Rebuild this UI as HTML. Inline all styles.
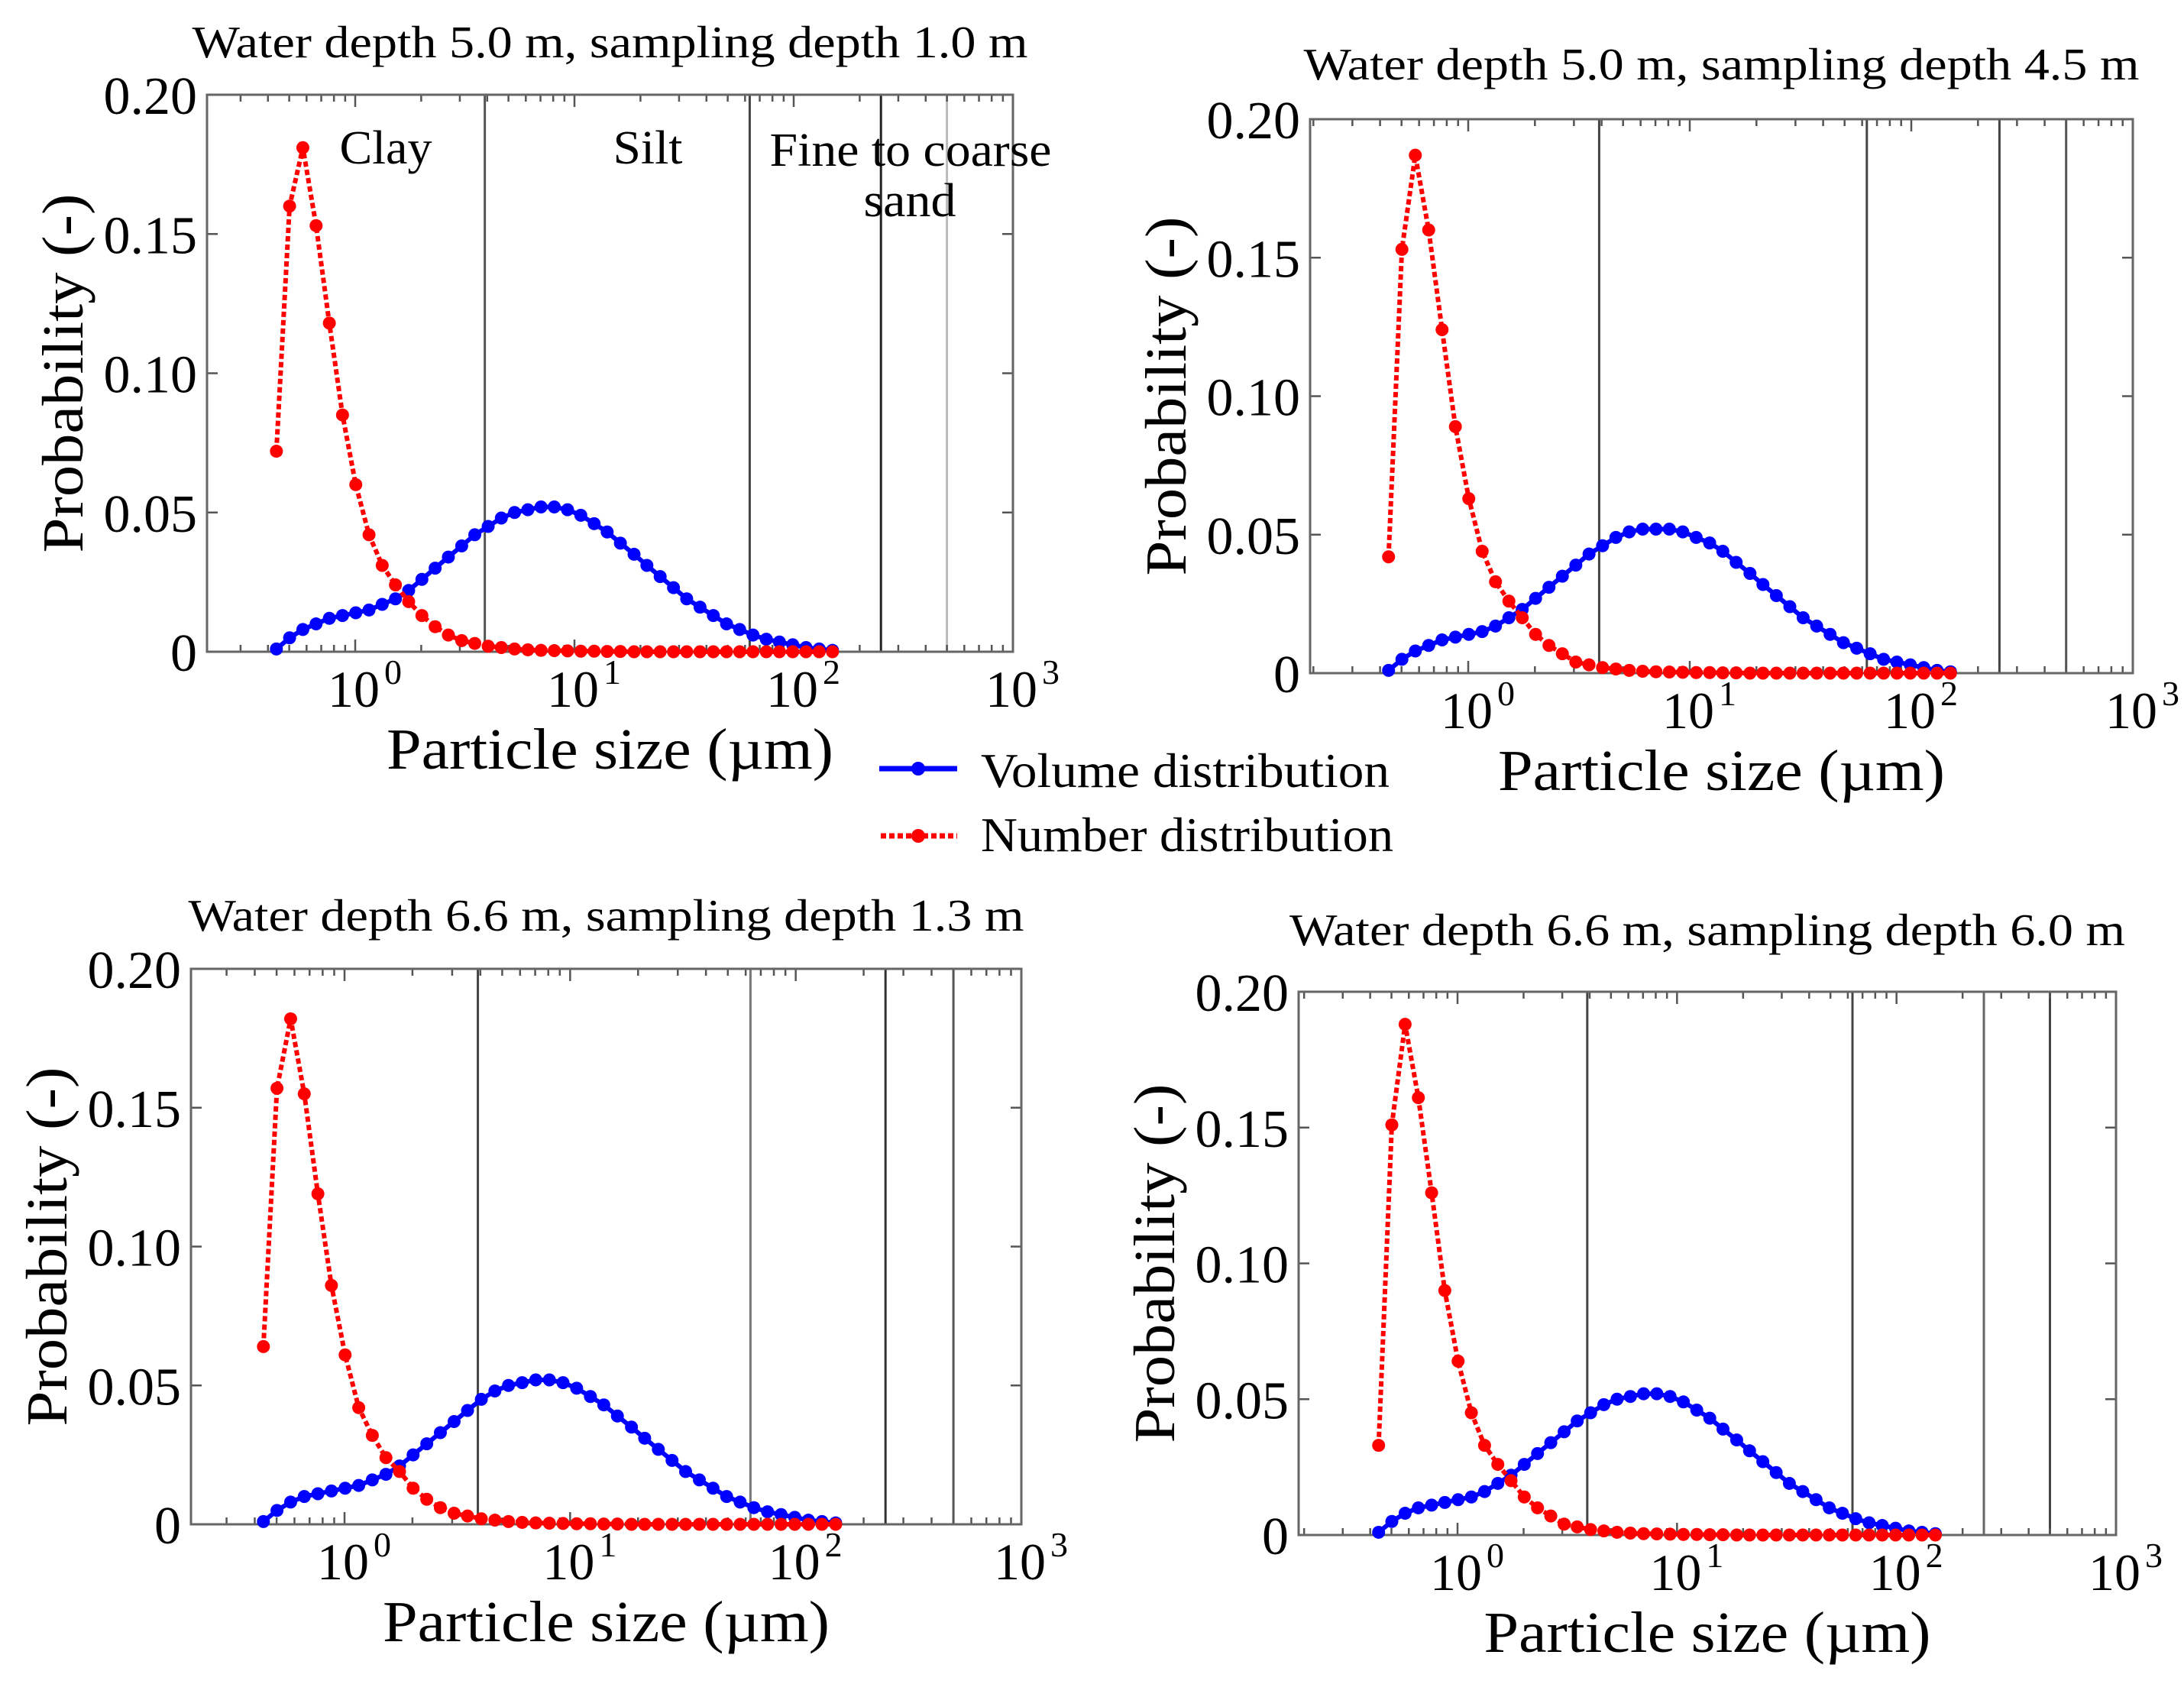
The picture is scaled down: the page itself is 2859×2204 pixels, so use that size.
<!DOCTYPE html>
<html><head><meta charset="utf-8"><style>
html,body{margin:0;padding:0;background:#fff}
svg{display:block;font-family:"Liberation Serif",serif}
</style></head><body>
<svg id="fig" width="2859" height="2204" viewBox="0 0 2859 2204" xmlns="http://www.w3.org/2000/svg">
<g>
 <line x1="1151" y1="1006" x2="1253" y2="1006" stroke="#0000ff" stroke-width="7"/>
 <circle cx="1202" cy="1006" r="9" fill="#0000ff"/>
 <text x="1284" y="1030" font-size="64" textLength="535" lengthAdjust="spacingAndGlyphs">Volume distribution</text>
 <line x1="1153" y1="1094" x2="1253" y2="1094" stroke="#ff0000" stroke-width="7" stroke-dasharray="7,4"/>
 <circle cx="1202" cy="1094" r="9" fill="#ff0000"/>
 <text x="1284" y="1114" font-size="64" textLength="540" lengthAdjust="spacingAndGlyphs">Number distribution</text>
</g>
</svg>
<script>
const sizes = [0.437,0.502,0.577,0.663,0.762,0.875,1.006,1.156,1.328,1.526,1.753,2.014,2.315,2.66,3.06,3.51,4.04,4.64,5.33,6.13,7.04,8.09,9.30,10.69,12.3,14.1,16.2,18.7,21.4,24.6,28.3,32.5,37.4,43.0,49.4,56.7,65.2,75.0,86.1,99.0,113.8,130.7,150.3];
const yTicks = [0, 0.05, 0.10, 0.15, 0.20];
const yTickLabels = ["0","0.05","0.10","0.15","0.20"];
const xDecades = [0, 1, 2, 3];
const boundaries = [3.9, 63, 250, 500];
const titles = ["Water depth 5.0 m, sampling depth 1.0 m","Water depth 5.0 m, sampling depth 4.5 m","Water depth 6.6 m, sampling depth 1.3 m","Water depth 6.6 m, sampling depth 6.0 m"];
const volP1 = [0.001,0.005,0.008,0.010,0.012,0.013,0.014,0.015,0.017,0.019,0.022,0.026,0.030,0.034,0.038,0.042,0.045,0.048,0.050,0.051,0.052,0.052,0.051,0.049,0.046,0.043,0.039,0.035,0.031,0.027,0.023,0.019,0.016,0.013,0.010,0.008,0.006,0.0045,0.0035,0.0025,0.0015,0.001,0.0005];
const numP1 = [0.072,0.160,0.181,0.153,0.118,0.085,0.060,0.042,0.031,0.024,0.018,0.013,0.009,0.006,0.004,0.003,0.002,0.0015,0.001,0.0007,0.0005,0.0004,0.0003,0.0002,0.0002,0.0001,0.0001,0,0,0,0,0,0,0,0,0,0,0,0,0,0,0,0];
const volP2 = [0.001,0.005,0.008,0.010,0.012,0.013,0.014,0.015,0.017,0.020,0.023,0.027,0.031,0.035,0.039,0.043,0.046,0.049,0.051,0.052,0.052,0.052,0.051,0.049,0.047,0.044,0.040,0.036,0.032,0.028,0.024,0.020,0.017,0.014,0.011,0.009,0.007,0.005,0.004,0.003,0.002,0.001,0.0005];
const numP2 = [0.042,0.153,0.187,0.160,0.124,0.089,0.063,0.044,0.033,0.026,0.020,0.014,0.010,0.007,0.004,0.003,0.002,0.0015,0.001,0.0007,0.0005,0.0004,0.0003,0.0002,0.0002,0.0001,0.0001,0,0,0,0,0,0,0,0,0,0,0,0,0,0,0,0];
const volP3 = [0.001,0.005,0.008,0.010,0.011,0.012,0.013,0.014,0.016,0.018,0.021,0.025,0.029,0.033,0.037,0.041,0.045,0.048,0.050,0.051,0.052,0.052,0.051,0.049,0.046,0.043,0.039,0.035,0.031,0.027,0.023,0.019,0.016,0.013,0.010,0.008,0.006,0.0045,0.0035,0.0025,0.0015,0.001,0.0005];
const numP3 = [0.064,0.157,0.182,0.155,0.119,0.086,0.061,0.042,0.032,0.024,0.019,0.013,0.009,0.006,0.004,0.003,0.002,0.0015,0.001,0.0007,0.0005,0.0004,0.0003,0.0002,0.0002,0.0001,0.0001,0,0,0,0,0,0,0,0,0,0,0,0,0,0,0,0];
const volP4 = [0.001,0.005,0.008,0.010,0.011,0.012,0.013,0.014,0.016,0.019,0.022,0.026,0.030,0.034,0.038,0.042,0.045,0.048,0.050,0.051,0.052,0.052,0.051,0.049,0.046,0.043,0.039,0.035,0.031,0.027,0.023,0.019,0.016,0.013,0.010,0.008,0.006,0.0045,0.0035,0.0025,0.0015,0.001,0.0005];
const numP4 = [0.033,0.151,0.188,0.161,0.126,0.090,0.064,0.045,0.033,0.026,0.020,0.014,0.010,0.007,0.004,0.003,0.002,0.0015,0.001,0.0007,0.0005,0.0004,0.0003,0.0002,0.0002,0.0001,0.0001,0,0,0,0,0,0,0,0,0,0,0,0,0,0,0,0];

const NS = "http://www.w3.org/2000/svg";
const svg = document.getElementById("fig");
function mk(tag, attrs, parent) {
  const e = document.createElementNS(NS, tag);
  for (const k in attrs) e.setAttribute(k, attrs[k]);
  parent.appendChild(e);
  return e;
}
const panels = [
  {L:271,R:1326,T:124,B:853,x0:465,ty:75,vol:volP1,num:numP1,cats:true,bc:["#555","#444","#222","#bbb"]},
  {L:1715,R:2792,T:156,B:881,x0:1922,ty:104,vol:volP2,num:numP2,cats:false,bc:["#444","#444","#444","#555"]},
  {L:250,R:1337,T:1268,B:1995,x0:451,ty:1218,vol:volP3,num:numP3,cats:false,bc:["#444","#777","#333","#555"]},
  {L:1700,R:2770,T:1298,B:2009,x0:1908,ty:1237,vol:volP4,num:numP4,cats:false,bc:["#444","#444","#666","#444"]}
];
panels.forEach((p, pi) => {
  const g = mk("g", {}, svg);
  
  
  const d = (p.R - p.x0) / 3;
  const xs = v => p.x0 + Math.log10(v) * d;
  const ys = v => p.B - v / 0.2 * (p.B - p.T);
  const cx = (p.L + p.R) / 2, cy = (p.T + p.B) / 2;
  const t = mk("text", {x: cx, y: p.ty, "font-size": 59, "text-anchor": "middle", textLength: 1094, lengthAdjust: "spacingAndGlyphs"}, g);
  
  
  t.textContent = titles[pi];
  boundaries.forEach((b, bi) => {
    const l = mk("line", {x1: xs(b), x2: xs(b), y1: p.T, y2: p.B, stroke: p.bc[bi], "stroke-width": 3}, g);
    
    
  });
  for (let dec = -1; dec < 3; dec++) {
    for (let k = 1; k <= 9; k++) {
      const v = k * Math.pow(10, dec);
      const x = xs(v);
      if (x < p.L + 2 || x > p.R - 2) continue;
      const len = k === 1 ? 16 : 9;
      mk("line", {x1: x, x2: x, y1: p.B, y2: p.B - len, stroke: "#555", "stroke-width": 2.5}, g);
      mk("line", {x1: x, x2: x, y1: p.T, y2: p.T + len, stroke: "#555", "stroke-width": 2.5}, g);
    }
  }
  yTicks.forEach((v, i) => {
    const y = ys(v);
    mk("line", {x1: p.L, x2: p.L + 14, y1: y, y2: y, stroke: "#555", "stroke-width": 2.5}, g);
    mk("line", {x1: p.R, x2: p.R - 14, y1: y, y2: y, stroke: "#555", "stroke-width": 2.5}, g);
    const tl = mk("text", {x: p.L - 13, y: y + 25, "font-size": 70, "text-anchor": "end"}, g);
    
    
    tl.textContent = yTickLabels[i];
  });
  xDecades.forEach(e => {
    const x = xs(Math.pow(10, e));
    const tl = mk("text", {x: x - 36, y: p.B + 72, "font-size": 68}, g);
    
    
    tl.textContent = "10";
    const sup = mk("tspan", {dy: -30, "font-size": 46, dx: 6}, tl);
    sup.textContent = String(e);
  });
  const box = mk("rect", {x: p.L, y: p.T, width: p.R - p.L, height: p.B - p.T, fill: "none", stroke: "#666", "stroke-width": 3}, g);
  
  
  const xt = mk("text", {x: cx, y: p.B + 153, "font-size": 76, "text-anchor": "middle", textLength: 585, lengthAdjust: "spacingAndGlyphs"}, g);
  
  
  xt.textContent = "Particle size (\u00b5m)";
  const yt = mk("text", {x: 0, y: 0, "font-size": 76, "text-anchor": "middle", textLength: 470, lengthAdjust: "spacingAndGlyphs", transform: `translate(${p.L - 163},${cy}) rotate(-90)`}, g);
  
  
  yt.textContent = "Probability (-)";
  if (p.cats) {
    [["Clay",505,214,121],["Silt",848,214,91],["Fine to coarse",1192,217,369],["sand",1191,283,121]].forEach(c => {
      const ct = mk("text", {x: c[1], y: c[2], "font-size": 62, "text-anchor": "middle", textLength: c[3], lengthAdjust: "spacingAndGlyphs"}, g);
      
      
      ct.textContent = c[0];
    });
  }
  const series = [[p.vol, "#0000ff", "none", "volume"], [p.num, "#ff0000", "7,4", "number"]];
  series.forEach(s => {
    const pts = sizes.map((v, i) => xs(v).toFixed(1) + "," + ys(s[0][i]).toFixed(1)).join(" ");
    const pl = mk("polyline", {points: pts, fill: "none", stroke: s[1], "stroke-width": 6, "stroke-dasharray": s[2]}, g);
    
    
    sizes.forEach((v, i) => {
      const c = mk("circle", {cx: xs(v), cy: ys(s[0][i]), r: 8.5, fill: s[1]}, g);
      
      
    });
  });
});
</script>
</body></html>
